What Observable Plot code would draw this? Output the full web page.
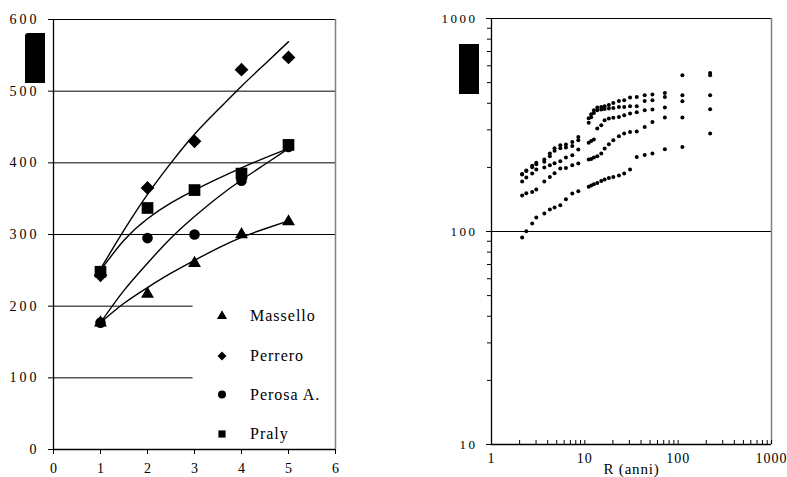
<!DOCTYPE html>
<html><head><meta charset="utf-8">
<script src="https://cdn.jsdelivr.net/npm/d3@7"></script>
<script src="https://cdn.jsdelivr.net/npm/@observablehq/plot@0.6"></script>
<style>
body{margin:0;background:#fff;width:787px;height:477px;overflow:hidden;position:relative;font-family:"Liberation Serif",serif}
#left,#right,#legend{position:absolute;top:0}
#left{left:0}
#right{left:430px}
#legend{left:0;pointer-events:none}
.blk{position:absolute;background:#000}
svg text{font-family:"Liberation Serif",serif}
#left g[aria-label="y-axis tick label"]{font-size:14px;letter-spacing:3px}
#left g[aria-label="x-axis tick label"]{font-size:14px}
#right g[aria-label="y-axis tick label"]{font-size:13px;letter-spacing:2.5px}
#right g[aria-label="x-axis tick label"]{font-size:14px;letter-spacing:1px}
#right g[aria-label="text"]{font-size:15px;letter-spacing:0.8px}
#legend text{font-size:16px;letter-spacing:1px}
</style>
</head><body>
<div id="left"></div>
<div id="right"></div>
<div id="legend"></div>
<div class="blk" style="left:25px;top:33px;width:20px;height:50px;border-top-left-radius:3px"></div>
<div class="blk" style="left:459px;top:44px;width:20px;height:50px"></div>
<script>
// ---- left panel data ----
const stations = ["Massello", "Perrero", "Perosa A.", "Praly"];
const durations = [1, 2, 3, 4, 5];
const massello = [177, 217, 260, 300, 318];
const perrero = [243, 365, 430, 530, 547];
const perosa = [177, 295, 300, 375, 422];
const praly = [248, 337, 362, 385, 425];
const fitX = [1, 1.5, 2, 2.5, 3, 3.5, 4, 4.5, 5];
const fitMassello = [177, 204, 226, 246, 264, 281, 296, 308, 319];
const fitPerrero = [252, 306, 356, 400, 440, 474, 507, 538, 569];
const fitPerosa = [177, 222, 260, 295, 325, 352, 376, 398, 420];
const fitPraly = [250, 292, 322, 344, 362, 378, 393, 407, 420];
const leftYTicks = [0, 100, 200, 300, 400, 500, 600];
const leftXTicks = [0, 1, 2, 3, 4, 5, 6];

// ---- right panel data ----
const R = [2.13, 2.36, 2.73, 3.02, 3.68, 4.22, 4.74, 5.46, 6.27, 7.34, 8.51, 11.0, 11.7, 12.5, 13.6, 15.0, 16.3, 18.1, 20.2, 23.2, 26.4, 30.5, 36.0, 43.8, 53.0, 72.0, 111, 220];
const s1 = [93.7, 100.3, 109.0, 116.3, 121.5, 126.9, 129.7, 132.9, 141.8, 150.8, 154.6, 162.0, 164.4, 166.8, 169.1, 172.8, 175.4, 178.5, 180.4, 183.2, 187.2, 195.5, 224.0, 228.9, 232.4, 243.4, 249.6, 288.5];
const s2 = [147.6, 151.3, 153.4, 157.5, 171.7, 180.4, 187.8, 197.6, 198.9, 204.8, 208.6, 217.8, 219.2, 222.6, 225.7, 232.4, 245.3, 257.0, 268.3, 280.2, 288.5, 293.5, 294.8, 309.8, 327.0, 343.0, 343.0, 375.2];
const s3 = [171.7, 179.3, 187.2, 195.5, 199.8, 204.8, 209.3, 213.8, 222.6, 228.2, 242.7, 261.2, 266.3, 270.4, 304.5, 315.6, 333.1, 339.3, 342.3, 345.1, 351.6, 358.1, 363.2, 371.2, 374.0, 382.2, 408.9, 436.4];
const s4 = [185.1, 192.5, 200.4, 207.0, 212.3, 225.7, 239.5, 246.1, 248.0, 252.3, 268.3, 324.2, 344.1, 360.5, 371.2, 374.0, 376.4, 378.1, 380.5, 384.6, 384.6, 387.6, 387.6, 410.2, 413.4, 428.5, 436.4, 541.8];
const s5 = [186.0, 193.5, 203.6, 210.4, 217.8, 232.4, 246.1, 254.2, 256.2, 263.4, 278.1, 340.4, 355.3, 371.2, 382.2, 384.6, 387.6, 393.0, 401.6, 410.2, 413.4, 425.7, 428.5, 436.4, 439.7, 447.4, 541.8, 555.4];
const rightYMajor = [10, 100, 1000];
const rightYMinor = [20, 30, 40, 50, 60, 70, 80, 90, 200, 300, 400, 500, 600, 700, 800, 900];
const rightXMajor = [1, 10, 100, 1000];
const rightXAll = [1, 2, 3, 4, 5, 6, 7, 8, 9, 10, 20, 30, 40, 50, 60, 70, 80, 90, 100, 200, 300, 400, 500, 600, 700, 800, 900, 1000];
const rightXLabel = "R (anni)";

const pts = vals => durations.map((d, i) => ({x: d, y: vals[i]}));
const fit = (vals, name) => fitX.map((d, i) => ({x: d, y: vals[i], s: name}));
const fitData = [
  ...fit(fitMassello, stations[0]), ...fit(fitPerrero, stations[1]),
  ...fit(fitPerosa, stations[2]), ...fit(fitPraly, stations[3])
];

const serif = "Liberation Serif, serif";

const left = Plot.plot({
  width: 430, height: 477,
  marginLeft: 53, marginRight: 95, marginTop: 19, marginBottom: 28,
  style: {fontFamily: serif, background: "transparent", color: "black", overflow: "visible"},
  x: {domain: [0, 6]},
  y: {domain: [0, 600]},
  marks: [
    Plot.ruleY([300, 400, 500, 600], {stroke: "black", strokeWidth: 1}),
    Plot.ruleY([100, 200], {y: d => d, x1: () => 0, x2: () => 2.97, stroke: "black", strokeWidth: 1}),
    Plot.ruleX([6], {stroke: "#808080", strokeWidth: 1.5}),
    Plot.ruleX([0], {stroke: "black", strokeWidth: 1.3}),
    Plot.ruleY([0], {stroke: "black", strokeWidth: 1.3}),
    Plot.line(fitData, {x: "x", y: "y", z: "s", curve: "natural", stroke: "black", strokeWidth: 1.4}),
    Plot.dot(pts(perosa), {x: "x", y: "y", symbol: "circle", r: 5.3, fill: "black"}),
    Plot.dot(pts(massello), {x: "x", y: "y", symbol: "triangle", r: 4.8, fill: "black"}),
    Plot.dot(pts(perrero), {x: "x", y: "y", symbol: "diamond2", r: 6.2, fill: "black"}),
    Plot.dot(pts(praly), {x: "x", y: "y", symbol: "square", r: 6.6, fill: "black"}),
    Plot.axisY({ticks: leftYTicks, tickSize: 5, tickPadding: 9, label: null, tickFormat: d => String(d)}),
    Plot.axisX({ticks: leftXTicks, tickSize: 5, tickPadding: 9, label: null, tickFormat: d => String(d)})
  ]
});
document.getElementById("left").appendChild(left);

const rightData = [];
[s1, s2, s3, s4, s5].forEach((s, k) => s.forEach((v, i) => rightData.push({R: R[i], v, k})));
const plotH = 477 - 18 - 33;

const right = Plot.plot({
  width: 357, height: 477,
  marginLeft: 61, marginRight: 16, marginTop: 18, marginBottom: 33,
  style: {fontFamily: serif, background: "transparent", color: "black", overflow: "visible"},
  x: {type: "log", domain: [1, 1000]},
  y: {type: "log", domain: [10, 1000]},
  marks: [
    Plot.ruleY([100, 1000], {stroke: "black", strokeWidth: 1}),
    Plot.ruleX([1000], {stroke: "#808080", strokeWidth: 1.5}),
    Plot.ruleX([1], {stroke: "black", strokeWidth: 1.3}),
    Plot.ruleY([10], {stroke: "black", strokeWidth: 1.3}),
    Plot.tickX(rightXAll, {x: d => d, insetTop: plotH - 4, stroke: "black"}),
    Plot.dot(rightData, {x: "R", y: "v", r: 2, fill: "black"}),
    Plot.axisY({ticks: rightYMajor, tickSize: 5, tickPadding: 9, label: null, tickFormat: d => String(d)}),
    Plot.axisY({ticks: rightYMinor, tickSize: 4, label: null, tickFormat: () => ""}),
    Plot.axisX({ticks: rightXMajor, tickSize: 0, tickPadding: 9, label: null, tickFormat: d => String(d)}),
    Plot.text([rightXLabel], {frameAnchor: "bottom", lineAnchor: "top", dy: 18.5, fill: "black"})
  ]
});
document.getElementById("right").appendChild(right);

// ---- legend ----
const legendItems = [
  {name: stations[0], sym: d3.symbolTriangle, size: 44, cy: 316},
  {name: stations[1], sym: d3.symbolDiamond2, size: 52, cy: 356},
  {name: stations[2], sym: d3.symbolCircle, size: 50, cy: 394.5},
  {name: stations[3], sym: d3.symbolSquare, size: 52, cy: 434}
];
const lg = d3.select("#legend").append("svg").attr("width", 430).attr("height", 477);
const g = lg.selectAll("g").data(legendItems).join("g");
g.append("path").attr("transform", d => `translate(222,${d.cy})`).attr("d", d => d3.symbol(d.sym, d.size)()).attr("fill", "black");
g.append("text").attr("x", 250).attr("y", d => d.cy + 5).text(d => d.name).attr("fill", "black");
</script>
</body></html>
